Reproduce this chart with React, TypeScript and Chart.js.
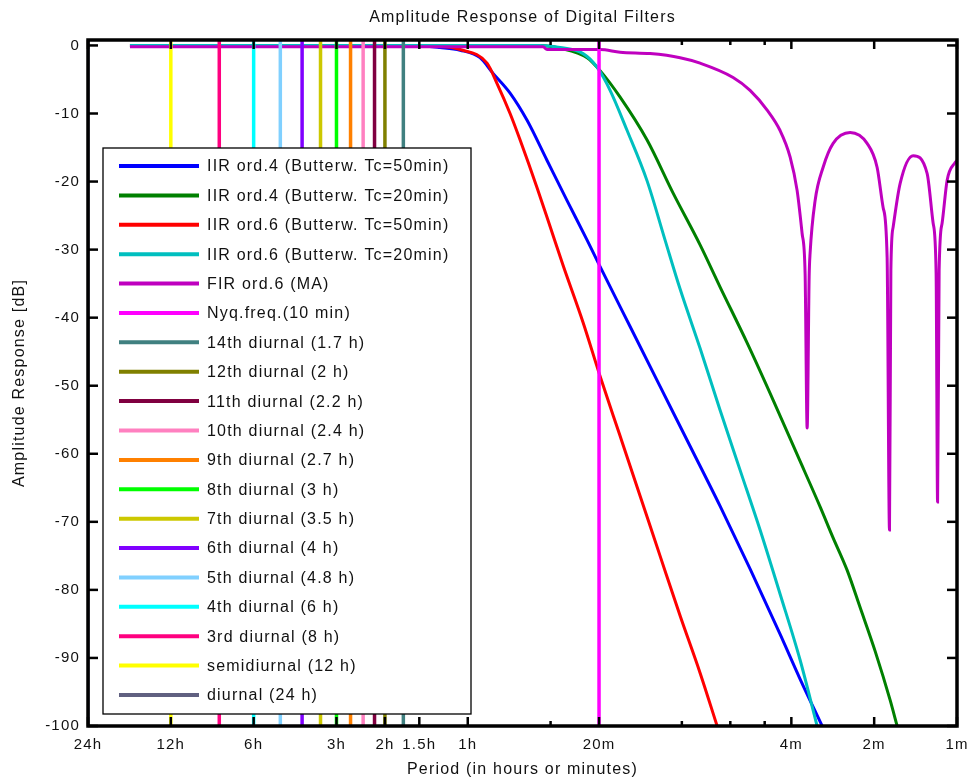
import React, { useEffect, useRef } from 'react';
import { Chart, registerables } from 'chart.js';

Chart.register(...registerables);

const FONT = "'Liberation Sans', Arial, Helvetica, sans-serif";
const TEXT_COLOR = '#111111';

// x values are frequencies in cycles per hour (period = 1/f), y values in dB
const X_MIN = 1 / 24;
const X_MAX = 60;
const Y_MIN = -100;
const Y_MAX = 0.8;

const xTickValues = [1 / 24, 1 / 12, 1 / 6, 1 / 3, 0.5, 2 / 3, 1, 2, 3, 6, 9, 12, 15, 30, 60];
const xTickLabels = ['24h', '12h', '6h', '3h', '2h', '1.5h', '1h', '', '20m', '', '', '', '4m', '2m', '1m'];
const yTickValues = [0, -10, -20, -30, -40, -50, -60, -70, -80, -90, -100];

// IIR ord.4 (Butterworth, Tc = 50 min)
const iir4_50_f = [0.0592, 0.671, 0.793, 0.938, 1.108, 1.236, 1.425, 1.643, 1.942, 2.296, 2.715, 2.977, 3.89, 5.0, 6.43, 8.264, 10.62, 13.65, 16.14, 19.41];
const iir4_50_db = [0, -0.07, -0.3, -0.7, -1.8, -4.1, -7.0, -11.0, -16.9, -22.8, -28.6, -31.9, -41.3, -50.1, -58.9, -67.7, -76.9, -86.5, -93.1, -100];

// IIR ord.4 (Butterworth, Tc = 20 min)
const iir4_20_f = [0.0592, 1.831, 2.165, 2.715, 3.027, 3.579, 4.485, 5.577, 6.989, 8.264, 10.36, 12.88, 15.74, 19.09, 21.2, 23.92, 26.68, 30.24, 34.29, 36.36];
const iir4_20_db = [0, 0, -0.4, -1.8, -3.7, -7.6, -13.9, -21.7, -29.3, -35.5, -43.7, -52.1, -60.1, -67.8, -72.2, -77.1, -82.6, -89.0, -96.2, -100];

// IIR ord.6 (Butterworth, Tc = 50 min)
const iir6_50_f = [0.0592, 0.793, 0.938, 1.175, 1.278, 1.425, 1.55, 1.786, 1.992, 2.22, 2.625, 3.027, 3.579, 4.231, 5.0, 5.913, 6.989, 8.06];
const iir6_50_db = [0, -0.15, -0.6, -2.6, -5.6, -10.0, -13.9, -20.9, -26.6, -32.3, -40.7, -48.6, -57.4, -66.2, -75.0, -83.8, -92.2, -100];

// IIR ord.6 (Butterworth, Tc = 20 min)
const iir6_20_f = [0.0592, 1.831, 2.165, 2.625, 2.951, 3.291, 3.795, 4.485, 5.214, 5.913, 6.989, 8.264, 9.768, 11.55, 13.65, 16.14, 18.61];
const iir6_20_db = [0, 0, -0.3, -1.2, -3.2, -6.6, -12.5, -19.9, -28.6, -35.8, -44.5, -53.6, -62.4, -71.2, -80.6, -90.3, -100];

// FIR ord.6 (moving average)
const fir_f = [0.0592, 1.878, 1.942, 3.027, 3.579, 4.599, 5.913, 6.989, 9.213, 10.62, 12.25, 13.65, 14.85, 15.74, 16.41, 16.83, 17.12, 17.41, 17.55, 18.3, 19.57, 21.28, 24.53, 28.28, 30.74, 32.33, 33.43, 34.1, 34.5, 35.16, 37.27, 41.56, 46.72, 49.13, 50.38, 51.0, 51.67, 52.98, 55.25, 59.07, 60];
const fir_db = [-0.2, -0.2, -0.6, -0.6, -1.0, -1.2, -1.8, -2.6, -4.7, -6.6, -9.5, -12.5, -16.4, -21.3, -27.6, -33.5, -56.2, -34.0, -30.5, -22.8, -17.9, -14.4, -12.8, -14.4, -17.9, -23.8, -31.1, -71.2, -33.0, -26.7, -20.3, -16.2, -18.8, -26.1, -33.5, -67.1, -33.0, -26.1, -19.8, -17.2, -16.9];

// Nyquist frequency marker (cycles per hour)
const nyqFreq = 3;

// Tidal harmonics: cycles per day
const tideCycles = [14, 12, 11, 10, 9, 8, 7, 6, 5, 4, 3, 2, 1];
const tideLabels = [
  '14th diurnal (1.7 h)',
  '12th diurnal (2 h)',
  '11th diurnal (2.2 h)',
  '10th diurnal (2.4 h)',
  '9th diurnal (2.7 h)',
  '8th diurnal (3 h)',
  '7th diurnal (3.5 h)',
  '6th diurnal (4 h)',
  '5th diurnal (4.8 h)',
  '4th diurnal (6 h)',
  '3rd diurnal (8 h)',
  'semidiurnal (12 h)',
  'diurnal (24 h)',
];
const tideColors = ['#408080', '#808000', '#800040', '#FF80C0', '#FF8000', '#00FF00', '#CCC800', '#8000FF', '#80D0FF', '#00FFFF', '#FF0080', '#FFFF00', '#606080'];

const curveLabels = [
  'IIR ord.4 (Butterw. Tc=50min)',
  'IIR ord.4 (Butterw. Tc=20min)',
  'IIR ord.6 (Butterw. Tc=50min)',
  'IIR ord.6 (Butterw. Tc=20min)',
  'FIR ord.6 (MA)',
];
const curveColors = ['#0000FF', '#008000', '#FF0000', '#00BFBF', '#BF00BF'];
const nyqLabel = 'Nyq.freq.(10 min)';
const nyqColor = '#FF00FF';

const titleText = 'Amplitude Response of Digital Filters';

const spacingPlugin = {
  id: 'spacing',
  beforeDraw(chart: any) {
    (chart.ctx as any).letterSpacing = '1.2px';
  },
};

const framePlugin = {
  id: 'frame',
  afterDatasetsDraw(chart: any) {
    const { ctx, chartArea: a, scales } = chart;
    ctx.save();
    ctx.strokeStyle = '#000';
    ctx.lineCap = 'butt';
    ctx.lineWidth = 2.5;
    const seg = (x0: number, y0: number, x1: number, y1: number) => {
      ctx.beginPath();
      ctx.moveTo(x0, y0);
      ctx.lineTo(x1, y1);
      ctx.stroke();
    };
    xTickValues.forEach((v, i) => {
      const px = scales.x.getPixelForValue(v);
      const len = xTickLabels[i] ? 9 : 5;
      seg(px, a.bottom, px, a.bottom - len);
      seg(px, a.top, px, a.top + len);
    });
    yTickValues.forEach((v) => {
      const py = scales.y.getPixelForValue(v);
      seg(a.left, py, a.left + 10, py);
      seg(a.right, py, a.right - 10, py);
    });
    ctx.lineWidth = 3.5;
    ctx.strokeRect(a.left, a.top, a.right - a.left, a.bottom - a.top);
    ctx.restore();
  },
};

const legendPlugin = {
  id: 'boxLegend',
  afterDatasetsDraw(chart: any) {
    const { ctx, chartArea: a } = chart;
    const x0 = a.left + 15;
    const y0 = a.top + 108;
    const x1 = a.left + 383;
    const y1 = a.top + 674;
    ctx.save();
    ctx.fillStyle = '#ffffff';
    ctx.fillRect(x0, y0, x1 - x0, y1 - y0);
    ctx.strokeStyle = '#000';
    ctx.lineWidth = 1.3;
    ctx.strokeRect(x0, y0, x1 - x0, y1 - y0);
    const ds = chart.data.datasets;
    const rowH = (695 - 166) / 18;
    ctx.font = `16px ${FONT}`;
    ctx.textBaseline = 'middle';
    ctx.textAlign = 'left';
    ds.forEach((d: any, i: number) => {
      const cy = y0 + 18 + i * rowH;
      ctx.strokeStyle = d.borderColor;
      ctx.lineWidth = 4;
      ctx.beginPath();
      ctx.moveTo(x0 + 16, cy);
      ctx.lineTo(x0 + 96, cy);
      ctx.stroke();
      ctx.fillStyle = TEXT_COLOR;
      ctx.fillText(d.label, x0 + 104, cy + 1);
    });
    ctx.restore();
  },
};

const titlePlugin = {
  id: 'plotTitle',
  afterDraw(chart: any) {
    const { ctx, chartArea: a } = chart;
    ctx.save();
    ctx.font = `16px ${FONT}`;
    ctx.fillStyle = TEXT_COLOR;
    ctx.textAlign = 'center';
    ctx.textBaseline = 'middle';
    ctx.fillText(titleText, (a.left + a.right) / 2, 18);
    ctx.restore();
  },
};

export default function App() {
  const ref = useRef<HTMLCanvasElement>(null);

  useEffect(() => {
    const canvas = ref.current;
    if (!canvas) return;
    const mk = (f: number[], db: number[]) => f.map((x, i) => ({ x, y: db[i] }));
    const curveF = [iir4_50_f, iir4_20_f, iir6_50_f, iir6_20_f, fir_f];
    const curveDb = [iir4_50_db, iir4_20_db, iir6_50_db, iir6_20_db, fir_db];

    const datasets: any[] = [];
    curveLabels.forEach((label, i) => {
      datasets.push({
        label,
        data: mk(curveF[i], curveDb[i]),
        borderColor: curveColors[i],
        backgroundColor: curveColors[i],
        borderWidth: 3,
        pointRadius: 0,
        fill: false,
        cubicInterpolationMode: 'monotone',
      });
    });
    datasets.push({
      label: nyqLabel,
      data: [
        { x: nyqFreq, y: Y_MIN },
        { x: nyqFreq, y: Y_MAX },
      ],
      borderColor: nyqColor,
      backgroundColor: nyqColor,
      borderWidth: 3.5,
      pointRadius: 0,
    });
    tideCycles.forEach((n, i) => {
      datasets.push({
        label: tideLabels[i],
        data: [
          { x: n / 24, y: Y_MIN },
          { x: n / 24, y: Y_MAX },
        ],
        borderColor: tideColors[i],
        backgroundColor: tideColors[i],
        borderWidth: 3.5,
        pointRadius: 0,
      });
    });
    datasets.forEach((d, i) => {
      d.order = datasets.length - i;
    });

    const chart = new Chart(canvas, {
      type: 'line',
      data: { datasets },
      options: {
        animation: false,
        responsive: false,
        devicePixelRatio: 1,
        events: [],
        layout: { padding: { left: 0, right: 14, top: 40, bottom: 0 } },
        plugins: {
          legend: { display: false },
          tooltip: { enabled: false },
          title: { display: false },
        },
        scales: {
          x: {
            type: 'logarithmic',
            min: X_MIN,
            max: X_MAX,
            grid: { display: false, drawTicks: false },
            border: { display: false },
            afterBuildTicks: (s: any) => {
              s.ticks = xTickValues.map((v) => ({ value: v }));
            },
            afterFit: (s: any) => {
              s.height = 54;
              s.paddingLeft = 0;
              s.paddingRight = 0;
            },
            ticks: {
              autoSkip: false,
              maxRotation: 0,
              minRotation: 0,
              padding: 10,
              color: TEXT_COLOR,
              font: { size: 15, family: FONT },
              callback: (_v: any, i: number) => xTickLabels[i],
            },
            title: {
              display: true,
              text: 'Period (in hours or minutes)',
              color: TEXT_COLOR,
              font: { size: 16, family: FONT },
              padding: { top: 0, bottom: 1 },
            },
          },
          y: {
            type: 'linear',
            min: Y_MIN,
            max: Y_MAX,
            grid: { display: false, drawTicks: false },
            border: { display: false },
            afterBuildTicks: (s: any) => {
              s.ticks = yTickValues.map((v) => ({ value: v }));
            },
            afterFit: (s: any) => {
              s.width = 88;
              s.paddingTop = 0;
              s.paddingBottom = 0;
            },
            ticks: {
              padding: 8,
              color: TEXT_COLOR,
              font: { size: 15, family: FONT },
              callback: (v: any) => String(v),
            },
            title: {
              display: true,
              text: 'Amplitude Response [dB]',
              color: TEXT_COLOR,
              font: { size: 16, family: FONT },
              padding: { top: 10, bottom: 0 },
            },
          },
        },
      } as any,
      plugins: [spacingPlugin, framePlugin, legendPlugin, titlePlugin],
    });
    return () => chart.destroy();
  }, []);

  return (
    <div style={{ position: 'absolute', left: 0, top: 0, width: 971, height: 780, background: '#ffffff' }}>
      <canvas ref={ref} width={971} height={780} style={{ width: 971, height: 780, display: 'block' }} />
    </div>
  );
}
